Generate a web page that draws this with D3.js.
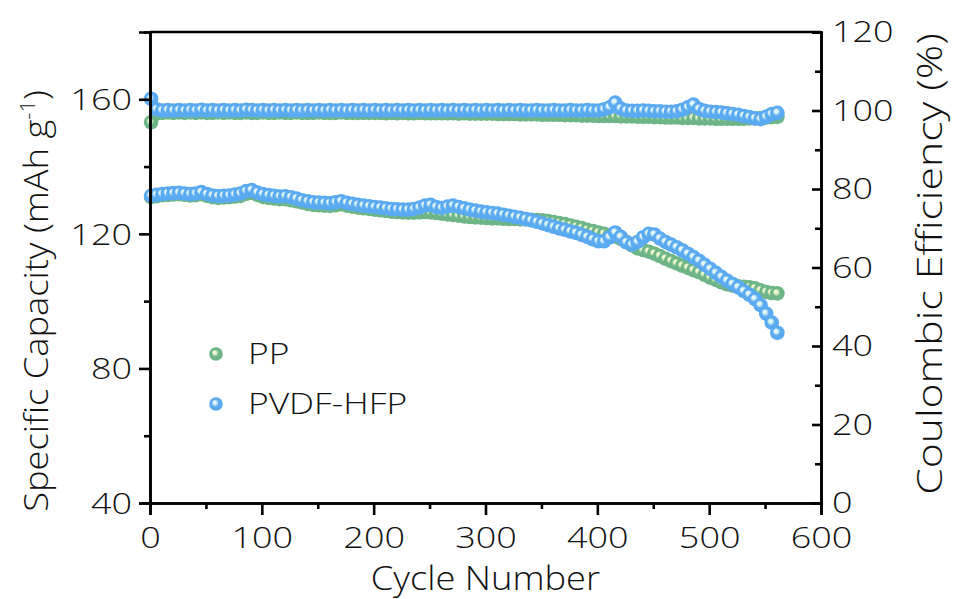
<!DOCTYPE html>
<html>
<head>
<meta charset="utf-8">
<script src="https://cdn.jsdelivr.net/npm/d3@7"></script>
<style>
  body { margin: 0; background: #fff; }
  svg text { font-family: "Open Sans", sans-serif; font-weight: 300; fill: #111; }
</style>
</head>
<body>
<svg id="chart" width="953" height="599"></svg>
<script>
// CYCLING DATA

const cycles = [1, 6, 11, 16, 21, 26, 31, 36, 41, 46, 51, 56, 61, 66, 71, 76, 81, 86, 91, 96,
  101, 106, 111, 116, 121, 126, 131, 136, 141, 146, 151, 156, 161, 166, 171, 176, 181, 186, 191, 196,
  201, 206, 211, 216, 221, 226, 231, 236, 241, 246, 251, 256, 261, 266, 271, 276, 281, 286, 291, 296,
  301, 306, 311, 316, 321, 326, 331, 336, 341, 346, 351, 356, 361, 366, 371, 376, 381, 386, 391, 396,
  401, 406, 411, 416, 421, 426, 431, 436, 441, 446, 451, 456, 461, 466, 471, 476, 481, 486, 491, 496,
  501, 506, 511, 516, 521, 526, 531, 536, 541, 546, 551, 556, 561];

// specific capacity (mAh g-1)
const capPP = [130.9, 131.2, 131.5, 131.6, 131.7, 131.8, 131.6, 131.4, 131.5, 131.8, 131.3, 130.9, 130.7, 130.8, 130.9, 131.1, 131.3, 131.9, 132.2, 131.6,
  131.0, 130.7, 130.5, 130.3, 130.3, 130.0, 129.7, 129.3, 128.9, 128.6, 128.5, 128.4, 128.3, 128.5, 128.8, 128.4, 128.1, 127.8, 127.6, 127.4,
  127.2, 127.0, 126.8, 126.6, 126.5, 126.4, 126.3, 126.3, 126.4, 126.5, 126.4, 126.2, 126.0, 125.8, 125.6, 125.4, 125.2, 125.0, 124.9, 124.8,
  124.7, 124.6, 124.6, 124.5, 124.4, 124.4, 124.3, 124.3, 124.2, 124.1, 124.0, 123.8, 123.5, 123.2, 122.9, 122.5, 122.1, 121.7, 121.2, 120.8,
  120.4, 120.0, 119.6, 119.2, 118.5, 117.6, 116.6, 115.7, 115.2, 114.7, 114.1, 113.4, 112.6, 111.9, 111.2, 110.5, 109.9, 109.2, 108.6, 107.8,
  107.0, 106.3, 105.6, 105.0, 104.6, 104.4, 104.3, 104.1, 103.8, 103.2, 102.7, 102.4, 102.3];

const capPVDF = [131.3, 131.6, 131.8, 132.0, 132.1, 132.2, 132.0, 131.8, 132.0, 132.4, 131.8, 131.4, 131.2, 131.3, 131.4, 131.7, 132.0, 132.7, 133.0, 132.3,
  131.8, 131.5, 131.3, 131.1, 131.2, 130.9, 130.5, 130.0, 129.7, 129.4, 129.3, 129.2, 129.1, 129.4, 129.7, 129.2, 128.9, 128.6, 128.4, 128.2,
  128.0, 127.8, 127.6, 127.4, 127.3, 127.2, 127.2, 127.4, 127.8, 128.4, 128.6, 128.0, 127.7, 128.1, 128.4, 128.0, 127.6, 127.2, 126.9, 126.6,
  126.4, 126.2, 126.0, 125.7, 125.4, 125.1, 124.8, 124.4, 124.0, 123.6, 123.1, 122.6, 122.1, 121.6, 121.2, 120.7, 120.3, 119.7, 119.1, 118.4,
  117.8, 117.8, 119.0, 120.4, 119.1, 117.5, 116.8, 117.6, 119.0, 120.0, 119.8, 118.6, 117.6, 116.8, 116.0, 115.1, 114.1, 113.1, 112.0, 110.8,
  109.6, 108.4, 107.2, 106.1, 105.1, 104.1, 103.0, 101.9, 100.6, 98.8, 96.3, 93.6, 90.6];

// coulombic efficiency (%)
const cePP = [97.0, 99.2, 99.4, 99.5, 99.4, 99.5, 99.4, 99.5, 99.4, 99.5, 99.4, 99.4, 99.5, 99.4, 99.5, 99.4, 99.4, 99.5, 99.4, 99.4,
  99.5, 99.4, 99.4, 99.5, 99.4, 99.4, 99.5, 99.4, 99.4, 99.4, 99.5, 99.4, 99.4, 99.4, 99.5, 99.4, 99.4, 99.4, 99.4, 99.4,
  99.4, 99.4, 99.3, 99.4, 99.3, 99.4, 99.3, 99.3, 99.4, 99.3, 99.3, 99.3, 99.3, 99.3, 99.3, 99.2, 99.3, 99.2, 99.2, 99.2,
  99.2, 99.2, 99.1, 99.1, 99.1, 99.1, 99.0, 99.0, 99.0, 99.0, 98.9, 98.9, 98.9, 98.9, 98.8, 98.8, 98.8, 98.7, 98.7, 98.7,
  98.6, 98.6, 98.6, 98.6, 98.5, 98.5, 98.5, 98.4, 98.4, 98.4, 98.3, 98.3, 98.2, 98.2, 98.2, 98.1, 98.1, 98.1, 98.0, 98.0,
  98.0, 97.9, 97.9, 97.9, 97.9, 97.9, 97.9, 98.0, 98.0, 98.1, 98.2, 98.3, 98.4];

const cePVDF = [103.0, 100.3, 100.0, 100.1, 100.0, 100.1, 100.0, 100.1, 100.0, 100.2, 100.0, 100.1, 100.0, 100.1, 100.0, 100.1, 100.0, 100.2, 100.1, 100.0,
  100.1, 100.0, 100.1, 100.0, 100.1, 100.0, 100.1, 100.0, 100.1, 100.0, 100.1, 100.0, 100.1, 100.0, 100.1, 100.0, 100.1, 100.0, 100.1, 100.0,
  100.1, 100.0, 100.1, 100.0, 100.1, 100.0, 100.1, 100.0, 100.1, 100.0, 100.1, 100.0, 100.1, 100.0, 100.1, 100.0, 100.1, 100.0, 100.1, 100.0,
  100.1, 100.0, 100.1, 100.0, 100.1, 100.0, 100.1, 100.0, 100.0, 100.1, 100.0, 100.0, 100.1, 100.0, 100.0, 100.1, 100.0, 100.0, 100.1, 100.0,
  100.0, 100.3, 100.8, 102.0, 100.5, 100.0, 99.9, 99.9, 100.0, 99.9, 99.8, 99.8, 99.7, 99.7, 99.8, 100.2, 100.8, 101.5, 100.4, 99.9,
  99.7, 99.6, 99.5, 99.3, 99.1, 98.9, 98.6, 98.3, 98.0, 97.8, 98.4, 99.1, 99.4];

const seriesNames = ["PP", "PVDF-HFP"];
const leftTicks = [40, 80, 120, 160];
const rightTicks = [0, 20, 40, 60, 80, 100, 120];
const xTicks = [0, 100, 200, 300, 400, 500, 600];

// colours: base and highlight for the shiny markers
const COLOR = {
  PP: { base: "#6db586", light: "#eef7cf" },
  PVDF: { base: "#5aaaf2", light: "#e2f6f2" },
};

const margin = { top: 32, right: 132, bottom: 96, left: 150 };
const W = 953, H = 599;
const plotW = W - margin.left - margin.right;
const plotH = H - margin.top - margin.bottom;

const svg = d3.select("#chart");

/// the source font is wider than Open Sans, so stretch single-line texts
function stretch(sel, k) {
  sel.each(function () {
    const len = this.getComputedTextLength();
    d3.select(this)
      .attr("textLength", len * k)
      .attr("lengthAdjust", "spacingAndGlyphs");
  });
}

// gradients for the sphere look
const defs = svg.append("defs");
function addGradient(id, c) {
  const g = defs.append("radialGradient")
    .attr("id", id)
    .attr("cx", "50%").attr("cy", "50%").attr("r", "50%")
    .attr("fx", "38%").attr("fy", "36%");
  g.append("stop").attr("offset", "0%").attr("stop-color", c.light);
  g.append("stop").attr("offset", "22%").attr("stop-color", c.light);
  g.append("stop").attr("offset", "55%").attr("stop-color", c.base);
  g.append("stop").attr("offset", "100%").attr("stop-color", c.base);
}
addGradient("gradPP", COLOR.PP);
addGradient("gradPVDF", COLOR.PVDF);

const g = svg.append("g").attr("transform", `translate(${margin.left},${margin.top})`);

// Scales
const x = d3.scaleLinear().domain([0, 600]).range([0, plotW]);
const yL = d3.scaleLinear().domain([40, 180]).range([plotH, 0]);
const yR = d3.scaleLinear().domain([0, 120]).range([plotH, 0]);

// Data points
function drawSeries(values, scale, fill, r) {
  g.append("g")
    .selectAll("circle")
    .data(cycles)
    .enter()
    .append("circle")
    .attr("cx", (d) => x(d))
    .attr("cy", (d, i) => scale(values[i]))
    .attr("r", r)
    .attr("fill", fill);
}
drawSeries(cePP, yR, "url(#gradPP)", 7.3);
drawSeries(cePVDF, yR, "url(#gradPVDF)", 7.3);
drawSeries(capPP, yL, "url(#gradPP)", 7.3);
drawSeries(capPVDF, yL, "url(#gradPVDF)", 7.3);

// Axes
const axisStroke = 2.6;
const tickFont = "30px";

// bottom axis
const xAxis = g.append("g")
  .attr("transform", `translate(0,${plotH})`)
  .call(d3.axisBottom(x).tickValues(xTicks).tickSize(12).tickPadding(12).tickFormat(d3.format("d")));
xAxis.append("g")
  .call(d3.axisBottom(x).tickValues([50, 150, 250, 350, 450, 550]).tickSize(6).tickFormat(""));

// left axis
const yAxisL = g.append("g")
  .call(d3.axisLeft(yL).tickValues(leftTicks).tickSize(11).tickPadding(7));
yAxisL.append("g")
  .call(d3.axisLeft(yL).tickValues([60, 100, 140]).tickSize(6).tickFormat(""));

// right axis, ticks point inward
const yAxisR = g.append("g")
  .attr("transform", `translate(${plotW},0)`)
  .call(d3.axisLeft(yR).tickValues(rightTicks).tickSize(9).tickFormat(""));
yAxisR.append("g")
  .call(d3.axisLeft(yR).tickValues([10, 30, 50, 70, 90, 110]).tickSize(6).tickFormat(""));
yAxisR.selectAll(".rlabel")
  .data(rightTicks)
  .enter()
  .append("text")
  .attr("class", "rlabel")
  .attr("x", 11)
  .attr("y", (d) => yR(d))
  .attr("dy", "0.34em")
  .style("font-size", tickFont)
  .style("text-anchor", "start")
  .text((d) => d);

// top frame line
g.append("line")
  .attr("x1", 0).attr("x2", plotW)
  .attr("y1", 0).attr("y2", 0)
  .attr("stroke", "#000")
  .attr("stroke-width", axisStroke);

g.selectAll(".domain")
  .attr("stroke", "#000")
  .attr("stroke-width", axisStroke);
g.selectAll(".tick line")
  .attr("stroke", "#000")
  .attr("stroke-width", axisStroke);
g.selectAll(".tick text")
  .style("font-size", tickFont)
  .attr("fill", "#111");
yAxisL.selectAll(".tick text").attr("dy", "0.34em");

stretch(g.selectAll(".tick text"), 1.2);
stretch(yAxisR.selectAll(".rlabel"), 1.2);

// Axis titles
const xTitle = svg.append("text")
  .attr("x", margin.left + plotW / 2)
  .attr("y", 590)
  .style("font-size", "33px")
  .style("text-anchor", "middle")
  .text("Cycle Number");
stretch(xTitle, 1.1);

const leftTitle = svg.append("text")
  .attr("transform", `translate(48,301) rotate(-90) scale(1.1,1)`)
  .style("font-size", "33px")
  .style("text-anchor", "middle");
leftTitle.append("tspan").text("Specific Capacity (mAh g");
leftTitle.append("tspan").attr("dy", -13).style("font-size", "20px").text("-1");
leftTitle.append("tspan").attr("dy", 13).text(")");

svg.append("text")
  .attr("transform", `translate(942,264) rotate(-90) scale(1.22,1)`)
  .style("font-size", "35px")
  .style("text-anchor", "middle")
  .text("Coulombic Efficiency (%)");

// Legend
const legend = g.append("g").attr("transform", "translate(66,322)");
const legendFill = ["url(#gradPP)", "url(#gradPVDF)"];
legend.selectAll("circle")
  .data(seriesNames)
  .enter()
  .append("circle")
  .attr("cx", 0)
  .attr("cy", (d, i) => i * 50)
  .attr("r", 6.8)
  .attr("fill", (d, i) => legendFill[i]);
const legendText = legend.selectAll("text")
  .data(seriesNames)
  .enter()
  .append("text")
  .attr("x", 32)
  .attr("y", (d, i) => i * 50)
  .attr("dy", "0.34em")
  .style("font-size", "29px")
  .text((d) => d);
stretch(legendText, 1.22);
</script>
</body>
</html>
